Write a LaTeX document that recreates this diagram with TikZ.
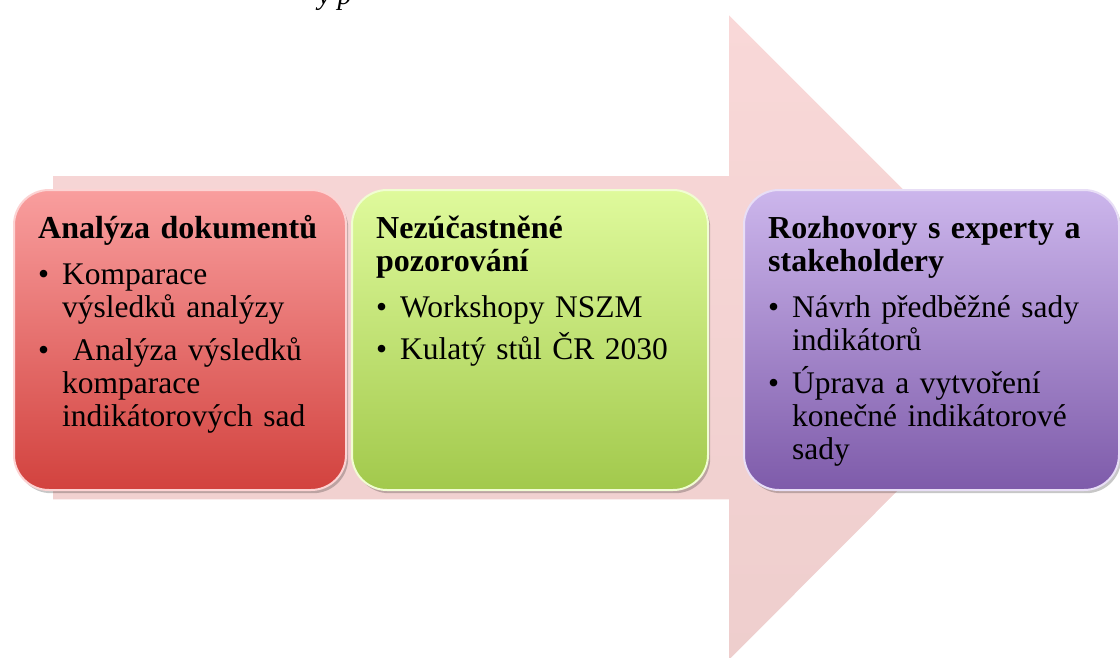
\documentclass[tikz,border=0pt]{standalone}
\usepackage{fontspec}
\setmainfont{Liberation Serif}
\usetikzlibrary{positioning}

\definecolor{arrowpink}{RGB}{249,216,216}
\definecolor{arrowpinkdark}{RGB}{238,206,205}
\definecolor{redtop}{RGB}{249,158,158}
\definecolor{redbot}{RGB}{210,66,62}
\definecolor{greentop}{RGB}{223,250,156}
\definecolor{greenbot}{RGB}{162,201,76}
\definecolor{violettop}{RGB}{204,182,236}
\definecolor{violetbot}{RGB}{126,91,170}

% bullet item with hanging indent
\newcommand{\bitem}{\par\hangindent=24pt\hangafter=1\noindent\makebox[24pt][l]{\textbullet}}
\newcommand{\boxhead}[1]{{\fontsize{32}{34}\selectfont\bfseries #1}}

\tikzset{
	stepbox/.style={rectangle, rounded corners=35pt, anchor=north west,
		minimum height=300pt, inner sep=0pt},
	boxshadow/.style={rectangle, rounded corners=35pt, anchor=north west,
		minimum height=300pt, inner sep=0pt, fill=black, opacity=0.22},
	boxtext/.style={anchor=north west, inner sep=0pt, text width=360pt,
		font=\fontsize{31.5}{33}\selectfont}
}

\begin{document}
\begin{tikzpicture}[x=1pt, y=-1pt]
	\useasboundingbox (0,0) rectangle (1120,657);
	\clip (0,0) rectangle (1120,657);

	% cut caption above
	\node[anchor=base west, inner sep=0pt, font=\fontsize{28}{33}\selectfont\itshape] (capfrag) at (318,4) {y p};

	% big arrow
	\draw[draw=white, line width=1.5, top color=arrowpink, bottom color=arrowpinkdark]
		(52,175) -- (728,175) -- (728,13) -- (1052,337) -- (728,662) -- (728,500) -- (52,500) -- cycle;

	% shadows
	\node[boxshadow, minimum width=332pt] at (16,193) {};
	\node[boxshadow, minimum width=356pt] at (354,193) {};
	\node[boxshadow, minimum width=375pt] at (746,193) {};

	% boxes
	\node[stepbox, minimum width=332pt, top color=redtop, bottom color=redbot,
		draw=white!55!redtop, line width=2] (analyza) at (13,189) {};
	\node[stepbox, minimum width=356pt, top color=greentop, bottom color=greenbot,
		draw=white!55!greentop, line width=2] (pozorovani) at (351,189) {};
	\node[stepbox, minimum width=375pt, top color=violettop, bottom color=violetbot,
		draw=white!55!violettop, line width=2] (rozhovory) at (743,189) {};

	% texts
	\node[boxtext] (analyzaText) at ([shift={(25,21)}]analyza.north west) {\raggedright
		\rule{0pt}{28pt}\boxhead{Analýza dokumentů}\par\vspace{13pt}
		\bitem Komparace\newline výsledků analýzy\par\vspace{10pt}
		\bitem \ Analýza výsledků\newline komparace\newline indikátorových sad\par};
	\node[boxtext] (pozorovaniText) at ([shift={(25,21)}]pozorovani.north west) {\raggedright
		\rule{0pt}{28pt}\boxhead{Nezúčastněné\newline pozorování}\par\vspace{13pt}
		\bitem Workshopy NSZM\par\vspace{7pt}
		\bitem Kulatý stůl ČR 2030\par};
	\node[boxtext] (rozhovoryText) at ([shift={(25,21)}]rozhovory.north west) {\raggedright
		\rule{0pt}{28pt}\boxhead{Rozhovory s experty a\newline stakeholdery}\par\vspace{13pt}
		\bitem Návrh předběžné sady\newline indikátorů\par\vspace{10pt}
		\bitem Úprava a vytvoření\newline konečné indikátorové\newline sady\par};
\end{tikzpicture}
\end{document}
